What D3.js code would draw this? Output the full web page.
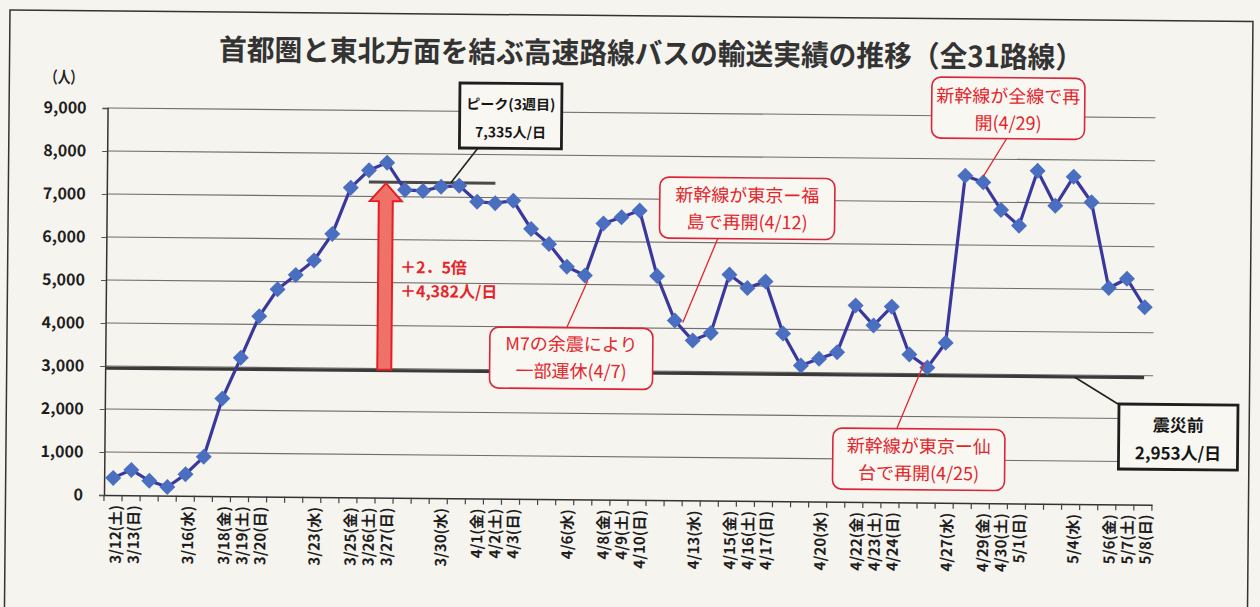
<!DOCTYPE html>
<html><head><meta charset="utf-8">
<script src="https://cdn.jsdelivr.net/npm/d3@7"></script>
<style>
html,body{margin:0;padding:0;background:#f6f4ee;}
svg{display:block;}
text{font-family:"Noto Sans CJK JP","Noto Sans",sans-serif;}
</style></head><body>
<svg id="chart" width="1260" height="607"></svg>
<script>
// ---------- data ----------
const categories = ["3/12","3/13","3/14","3/15","3/16","3/17","3/18","3/19","3/20","3/21",
  "3/22","3/23","3/24","3/25","3/26","3/27","3/28","3/29","3/30","3/31",
  "4/1","4/2","4/3","4/4","4/5","4/6","4/7","4/8","4/9","4/10",
  "4/11","4/12","4/13","4/14","4/15","4/16","4/17","4/18","4/19","4/20",
  "4/21","4/22","4/23","4/24","4/25","4/26","4/27","4/28","4/29","4/30",
  "5/1","5/2","5/3","5/4","5/5","5/6","5/7","5/8"];
const values = [400,590,340,200,500,910,2270,3220,4190,4820,
  5160,5500,6120,7200,7610,7790,7160,7140,7240,7270,
  6900,6870,6930,6280,5930,5410,5210,6420,6570,6730,
  5210,4180,3720,3900,5260,4950,5110,3900,3160,3320,
  3480,4570,4110,4550,3440,3140,3720,7610,7460,6820,
  6460,7740,6930,7610,7020,5030,5250,4590];
const tickLabels = ["3/12(土)","3/13(日)","","","3/16(水)","","3/18(金)","3/19(土)","3/20(日)","",
  "","3/23(水)","","3/25(金)","3/26(土)","3/27(日)","","","3/30(水)","",
  "4/1(金)","4/2(土)","4/3(日)","","","4/6(水)","","4/8(金)","4/9(土)","4/10(日)",
  "","","4/13(水)","","4/15(金)","4/16(土)","4/17(日)","","","4/20(水)",
  "","4/22(金)","4/23(土)","4/24(日)","","","4/27(水)","","4/29(金)","4/30(土)",
  "5/1(日)","","","5/4(水)","","5/6(金)","5/7(土)","5/8(日)"];
const yTicks = [0,1000,2000,3000,4000,5000,6000,7000,8000,9000];
const beforeValue = 2953;      // 震災前
const peakValue = 7335;        // ピーク(3週目)
const peakSpan = ["3/26","4/2"];
const arrowAt = "3/27";

// ---------- layout ----------
const svg = d3.select("#chart");
const W = 1260, H = 607;
const X0 = 104, X1 = 1152, Y0 = 495, Y1 = 108;
const ANG = 0.53, th = ANG*Math.PI/180;
const u = (ox, oy) => [X0 + (ox-X0)*Math.cos(th) + (oy-Y0)*Math.sin(th),
                       Y0 - (ox-X0)*Math.sin(th) + (oy-Y0)*Math.cos(th)];

svg.append("rect").attr("width",W).attr("height",H).attr("fill","#f6f4ee");
const g = svg.append("g").attr("transform",`rotate(${ANG},${X0},${Y0})`);

const x = d3.scaleBand().domain(categories).range([X0,X1]).padding(0);
const y = d3.scaleLinear().domain([0,9000]).range([Y0,Y1]);
const cx = c => x(c) + x.bandwidth()/2;

// outer frame
g.append("rect").attr("x",u(10,10)[0]).attr("y",u(10,10)[1]).attr("width",1243).attr("height",620)
  .attr("fill","none").attr("stroke","#333").attr("stroke-width",1.5);

// title
const tp = u(219,60);
g.append("text").attr("x",tp[0]).attr("y",tp[1]).attr("font-size",29).attr("font-weight",700)
  .attr("fill","#333").attr("textLength",864).attr("lengthAdjust","spacingAndGlyphs")
  .text("首都圏と東北方面を結ぶ高速路線バスの輸送実績の推移（全31路線）");
const up = u(45,83);
g.append("text").attr("x",up[0]).attr("y",up[1]).attr("font-size",16).attr("font-weight",700)
  .attr("fill","#222").attr("textLength",38).attr("lengthAdjust","spacingAndGlyphs").text("（人）");

// gridlines
g.append("g").selectAll("line").data(yTicks.filter(d=>d>0)).join("line")
  .attr("x1",X0).attr("x2",X1).attr("y1",d=>y(d)).attr("y2",d=>y(d))
  .attr("stroke","#6e6e6e").attr("stroke-width",1.1);

// y axis
const yAxis = g.append("g").attr("transform",`translate(${X0},0)`)
  .call(d3.axisLeft(y).tickValues(yTicks).tickSize(5).tickPadding(16).tickFormat(d3.format(",")));
yAxis.select(".domain").attr("stroke","#333").attr("stroke-width",1.5);
yAxis.selectAll(".tick line").attr("stroke","#555");
yAxis.selectAll("text").attr("font-size",16).attr("font-weight",700).attr("fill","#1e1e1e")
  .attr("font-family","'Noto Sans CJK JP',sans-serif");

// x axis
const xAxis = g.append("g").attr("transform",`translate(0,${Y0})`)
  .call(d3.axisBottom(x).tickSize(0).tickFormat((d,i)=>tickLabels[i]));
xAxis.select(".domain").attr("stroke","#333").attr("stroke-width",1.5);
xAxis.selectAll(".tick text").attr("font-size",15).attr("font-weight",700).attr("fill","#1e1e1e")
  .attr("font-family","'Noto Sans CJK JP',sans-serif")
  .attr("text-anchor","end").attr("dy","0.35em").attr("transform","translate(0,10) rotate(-90)");
const bounds = categories.map(c=>x(c)).concat([X1]);
g.append("g").selectAll("line").data(bounds).join("line")
  .attr("x1",d=>d).attr("x2",d=>d).attr("y1",Y0).attr("y2",Y0+6)
  .attr("stroke","#444").attr("stroke-width",1.2);

// reference lines
g.append("line").attr("x1",X0).attr("x2",cx(categories[categories.length-1]))
  .attr("y1",y(beforeValue)).attr("y2",y(beforeValue))
  .attr("stroke","#3a3a3a").attr("stroke-width",3.2);
g.append("line").attr("x1",cx(peakSpan[0])).attr("x2",cx(peakSpan[1]))
  .attr("y1",y(peakValue)).attr("y2",y(peakValue))
  .attr("stroke","#4a4a4a").attr("stroke-width",3);

// arrow
const ax = cx(arrowAt) - 1, ab = y(beforeValue) - 1, at = y(peakValue) + 1;
const hh = 18, hw = 16, sw = 7;
g.append("path")
  .attr("d",`M${ax-sw},${ab} L${ax-sw},${at+hh} L${ax-hw},${at+hh} L${ax},${at} L${ax+hw},${at+hh} L${ax+sw},${at+hh} L${ax+sw},${ab} Z`)
  .attr("fill","#ee7268").attr("stroke","#e61e26").attr("stroke-width",2);
const rt1 = u(400,273), rt2 = u(400,297);
g.append("text").attr("x",rt1[0]).attr("y",rt1[1]).attr("font-size",16).attr("font-weight",700).attr("fill","#e3262c").text("＋2．5倍");
g.append("text").attr("x",rt2[0]).attr("y",rt2[1]).attr("font-size",16).attr("font-weight",700).attr("fill","#e3262c").text("＋4,382人/日");

// series
const pts = categories.map((c,i)=>({c, v: values[i]}));
g.append("path").datum(pts)
  .attr("d", d3.line().x(d=>cx(d.c)).y(d=>y(d.v)))
  .attr("fill","none").attr("stroke","#3a389c").attr("stroke-width",3.2);
g.append("g").selectAll("path").data(pts).join("path")
  .attr("d", d3.symbol(d3.symbolSquare, 128)())
  .attr("transform", d=>`translate(${cx(d.c)},${y(d.v)}) rotate(45)`)
  .attr("fill","#4a6fc1");

// annotations
const P = c => [cx(c), y(values[categories.indexOf(c)])];
function box(o){
  const tl = u(o.box[0], o.box[1]);
  const w = o.box[2]-o.box[0], h = o.box[3]-o.box[1];
  const f = u(o.from[0], o.from[1]);
  g.append("line").attr("x1",f[0]).attr("y1",f[1]).attr("x2",o.to[0]).attr("y2",o.to[1])
    .attr("stroke", o.red ? "#e0262e" : "#222").attr("stroke-width", o.red ? 1.3 : 1.6);
  g.append("rect").attr("x",tl[0]).attr("y",tl[1]).attr("width",w).attr("height",h)
    .attr("rx", o.red ? 9 : 0).attr("fill","#f8f7f2")
    .attr("stroke", o.red ? "#d9263a" : "#1e1e1e").attr("stroke-width", o.red ? 1.6 : 2.8);
  o.lines.forEach((t,i)=>{
    g.append("text").attr("x", tl[0]+w/2).attr("y", tl[1] + o.ty[i])
      .attr("text-anchor","middle").attr("font-size",o.fs)
      .attr("font-weight", o.red ? 400 : 700)
      .attr("fill", o.red ? "#e3262c" : "#151515").text(t);
  });
}
const pk = [cx(peakSpan[0]) + 82, y(peakValue)];
const bf = [cx("4/28") + 111, y(beforeValue)];
const annotations = [
  {lines:["ピーク(3週目)","7,335人/日"], box:[460,83,562,148], from:[478,148], to:pk, ty:[26,54], fs:14, red:false},
  {lines:["震災前","2,953人/日"], box:[1119,404,1238,469], from:[1118,404], to:bf, ty:[27,55], fs:17, red:false},
  {lines:["新幹線が東京ー福","島で再開(4/12)"], box:[660,177,835,238], from:[718,238], to:[P("4/12")[0]+8,P("4/12")[1]+2], ty:[24,51], fs:18, red:true},
  {lines:["M7の余震により","一部運休(4/7)"], box:[490,327,653,388], from:[567,327], to:[P("4/7")[0]+3,P("4/7")[1]+5], ty:[23,50], fs:18, red:true},
  {lines:["新幹線が全線で再","開(4/29)"], box:[932,77,1085,138], from:[1007,138], to:[P("4/29")[0],P("4/29")[1]-6], ty:[25,52], fs:18, red:true},
  {lines:["新幹線が東京ー仙","台で再開(4/25)"], box:[833,428,1005,489], from:[897,428], to:[P("4/26")[0]-3,P("4/26")[1]-5], ty:[24,51], fs:18, red:true}
];
annotations.forEach(box);
</script>
</body></html>
